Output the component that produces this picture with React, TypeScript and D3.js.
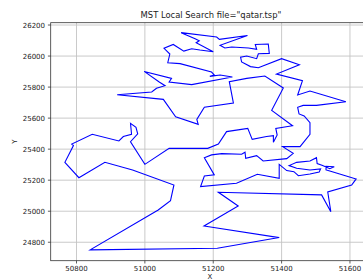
import React from "react";
import * as d3 from "d3";

// tour order
const tourX = [
  50840, 51212, 51393, 51173, 51273, 51215, 51517, 51544, 51535, 51605,
  51618, 51541, 51530, 51530, 51554, 51541, 51520, 51504, 51502, 51483,
  51444, 51422, 51444, 51483, 51514, 51510, 51483, 51449, 51436, 51415,
  51393, 51393, 51329, 51268, 51163, 51174, 51203, 51174, 51195, 51225,
  51283, 51293, 51295, 51327, 51346, 51415, 51434, 51403, 51454, 51483,
  51483, 51466, 51451, 51447, 51463, 51502, 51588, 51483, 51447, 51461,
  51385, 51452, 51400, 51332, 51309, 51283, 51280, 51298, 51327, 51332,
  51364, 51361, 51323, 51327, 51303, 51254, 51234, 51220, 51300, 51218,
  51210, 51106, 51147, 51159, 51150, 51200, 51161, 51137, 51114, 51083,
  51056, 51073, 51067, 51103, 51195, 51203, 51190, 51220, 51256, 51137,
  51071, 51078, 50998, 51042, 51059, 51034, 51020, 50919, 51054, 51090,
  51156, 51152, 51174, 51259, 51247, 51298, 51351, 51405, 51371, 51432,
  51383, 51387, 51376, 51376, 51356, 51314, 51301, 51239, 51215, 51184,
  51071, 51000, 50958, 50979, 50974, 50958, 50961, 50937, 50924, 50846,
  50786, 50791, 50766, 50807, 50883, 50964, 51085, 51075, 51039,
];
const tourY = [
  24751, 24761, 24830, 24905, 25034, 25122, 25105, 24997, 25124, 25169,
  25208, 25259, 25266, 25290, 25287, 25274, 25294, 25307, 25345, 25324,
  25315, 25294, 25277, 25266, 25272, 25253, 25240, 25229, 25255, 25262,
  25302, 25212, 25238, 25180, 25159, 25227, 25234, 25345, 25363, 25371,
  25367, 25380, 25341, 25358, 25324, 25339, 25373, 25416, 25416, 25496,
  25571, 25614, 25627, 25670, 25682, 25682, 25706, 25775, 25749, 25841,
  25884, 25944, 25983, 25925, 25932, 25962, 25992, 26000, 25983, 26015,
  26017, 26078, 26075, 26043, 26052, 26058, 26052, 26069, 26133, 26108,
  26123, 26151, 26112, 26099, 26086, 26028, 26039, 26047, 26032, 26075,
  26050, 26013, 25957, 25951, 25897, 25878, 25869, 25878, 25865, 25816,
  25833, 25856, 25901, 25833, 25809, 25792, 25768, 25751, 25721, 25609,
  25560, 25592, 25670, 25697, 25835, 25856, 25871, 25794, 25650, 25551,
  25534, 25491, 25444, 25487, 25481, 25463, 25534, 25513, 25433, 25405,
  25405, 25302, 25448, 25498, 25541, 25566, 25496, 25481, 25453, 25496,
  25433, 25423, 25315, 25216, 25315, 25266, 25169, 25068, 25008,
];

const xTicks = [50800, 51000, 51200, 51400, 51600];
const yTicks = [24800, 25000, 25200, 25400, 25600, 25800, 26000, 26200];

const W = 363;
const H = 279;
const left = 50.7;
const right = 371.5;
const top = 22.7;
const bottom = 260.7;
const font = "DejaVu Sans, sans-serif";

export default function App() {
  const x = d3.scaleLinear().domain([50724.5, 51663]).range([left, right]);
  const y = d3.scaleLinear().domain([24681, 26215]).range([bottom, top]);

  const pts = tourX.map((v, i) => [v, tourY[i]] as [number, number]);
  const line = d3
    .line<[number, number]>()
    .x((d) => x(d[0]))
    .y((d) => y(d[1]))
    .curve(d3.curveLinearClosed);

  return (
    <svg
      width={W}
      height={H}
      style={{ position: "absolute", left: 0, top: 0, background: "#fff" }}
    >
      <defs>
        <clipPath id="plot">
          <rect x={left} y={top} width={right - left} height={bottom - top} />
        </clipPath>
      </defs>

      {/* grid */}
      {xTicks.map((t) => (
        <line key={"gx" + t} x1={x(t)} x2={x(t)} y1={top} y2={bottom} stroke="#c4c4c4" strokeWidth={0.9} />
      ))}
      {yTicks.map((t) => (
        <line key={"gy" + t} x1={left} x2={right} y1={y(t)} y2={y(t)} stroke="#c4c4c4" strokeWidth={0.9} />
      ))}

      <path d={line(pts) || ""} fill="none" stroke="#0000ff" strokeWidth={1.1} clipPath="url(#plot)" />

      {/* spines */}
      <rect x={left} y={top} width={right - left} height={bottom - top} fill="none" stroke="#333" strokeWidth={0.8} />

      {/* ticks */}
      {xTicks.map((t) => (
        <g key={"tx" + t}>
          <line x1={x(t)} x2={x(t)} y1={bottom} y2={bottom + 2.8} stroke="#333" strokeWidth={0.8} />
          <text x={x(t)} y={271} fontSize={7} fontFamily={font} textAnchor="middle" fill="#222">
            {t}
          </text>
        </g>
      ))}
      {yTicks.map((t) => (
        <g key={"ty" + t}>
          <line x1={left - 2.8} x2={left} y1={y(t)} y2={y(t)} stroke="#333" strokeWidth={0.8} />
          <text x={45} y={y(t) + 2.5} fontSize={7} fontFamily={font} textAnchor="end" fill="#222">
            {t}
          </text>
        </g>
      ))}

      <text x={211} y={17.5} fontSize={8.4} fontFamily={font} textAnchor="middle" fill="#222">
        MST Local Search file="qatar.tsp"
      </text>
      <text x={210} y={278.5} fontSize={7} fontFamily={font} textAnchor="middle" fill="#222">
        X
      </text>
      <text
        transform={`translate(16.5,${(top + bottom) / 2}) rotate(-90)`}
        fontSize={7}
        fontFamily={font}
        textAnchor="middle"
        fill="#222"
      >
        Y
      </text>
    </svg>
  );
}
